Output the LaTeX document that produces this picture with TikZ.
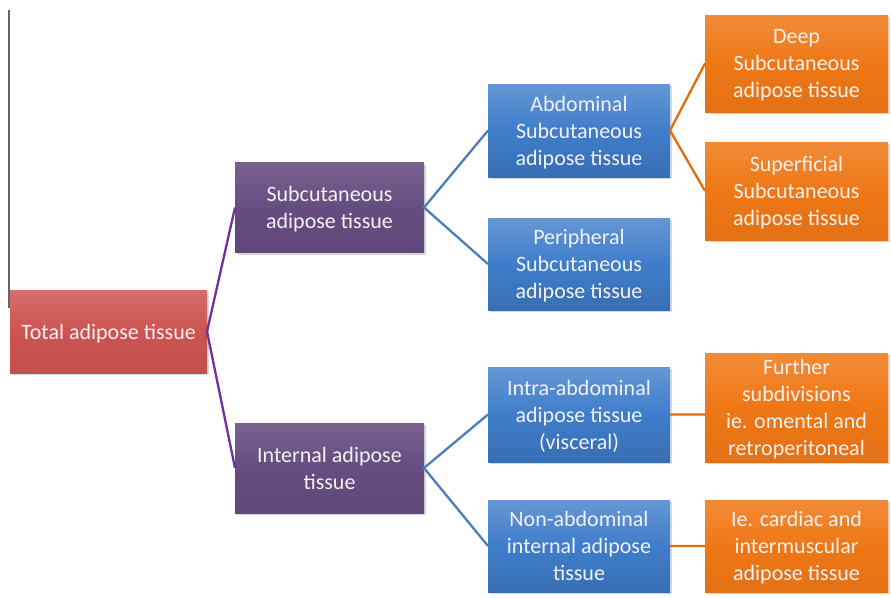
\documentclass[tikz,border=0pt]{standalone}
\usepackage{fontspec}
\setmainfont{Carlito}
\usetikzlibrary{shadows}
\definecolor{totalred}{HTML}{CC5451}
\definecolor{tissuepurple}{HTML}{664C80}
\definecolor{partblue}{HTML}{3F7DCB}
\definecolor{detailorange}{HTML}{EF7715}
\definecolor{purplelink}{HTML}{7030A0}
\definecolor{bluelink}{HTML}{4A7EBB}
\definecolor{orangelink}{HTML}{E46C0A}
\begin{document}
\begin{tikzpicture}[x=1pt,y=-1pt,
	tissuebox/.style={text=white!95!black,align=center,inner sep=0pt,outer sep=0pt,text depth=0pt,
		drop shadow={shadow xshift=1.5pt,shadow yshift=-2pt,opacity=0.3}},
	totalbox/.style={tissuebox,top color=totalred!85!white,bottom color=totalred!95!black,
		middle color=totalred,minimum width=197pt,minimum height=83pt},
	classbox/.style={tissuebox,top color=tissuepurple!88!white,bottom color=tissuepurple!95!black,
		middle color=tissuepurple,minimum width=189pt,minimum height=90pt},
	partbox/.style={tissuebox,top color=partblue!80!white,bottom color=partblue!88!black,
		middle color=partblue,minimum width=182pt,minimum height=93pt},
	detailbox/.style={tissuebox,top color=detailorange!85!white,bottom color=detailorange!95!black,
		middle color=detailorange,minimum width=183pt,minimum height=97pt},
	treelink/.style={line width=2.3pt}]
	\fontsize{22pt}{27pt}\selectfont
	\useasboundingbox (0,0) rectangle (891,597);
	\draw[gray!80!black,line width=1.5pt] (9,10) -- (9,308);
	% boxes
	\node[totalbox] (total) at (108.5,331.5) {Total adipose tissue};
	\node[classbox] (subc) at (329.5,207.5) {Subcutaneous\\adipose tissue};
	\node[classbox] (intern) at (329.5,468) {Internal adipose\\tissue};
	\node[partbox] (abdo) at (579,130.5) {Abdominal\\Subcutaneous\\adipose tissue};
	\node[partbox,minimum height=92pt] (peri) at (579,264) {Peripheral\\Subcutaneous\\adipose tissue};
	\node[partbox,minimum height=95pt] (intra) at (579,414.5) {Intra-abdominal\\adipose tissue\\(visceral)};
	\node[partbox,minimum height=92pt] (nonab) at (579,546) {Non-abdominal\\internal adipose\\tissue};
	\node[detailbox] (deep) at (796.5,63.5) {Deep\\Subcutaneous\\adipose tissue};
	\node[detailbox,minimum height=98pt] (superf) at (796.5,191) {Superficial\\Subcutaneous\\adipose tissue};
	\node[detailbox,minimum height=109pt] (further) at (796.5,407.5) {Further\\subdivisions\\ie. omental and\\retroperitoneal};
	\node[detailbox,minimum height=92pt] (cardiac) at (796.5,546) {Ie. cardiac and\\intermuscular\\adipose tissue};
	% links
	\draw[treelink,purplelink] (subc.west) -- (total.east) -- (intern.west);
	\draw[treelink,bluelink] (abdo.west) -- (subc.east) -- (peri.west)
		(intra.west) -- (intern.east) -- (nonab.west);
	\draw[treelink,orangelink] (deep.west) -- (abdo.east) -- (superf.west)
		(intra.east) -- (intra.east -| further.west)
		(nonab.east) -- (nonab.east -| cardiac.west);
\end{tikzpicture}
\end{document}
